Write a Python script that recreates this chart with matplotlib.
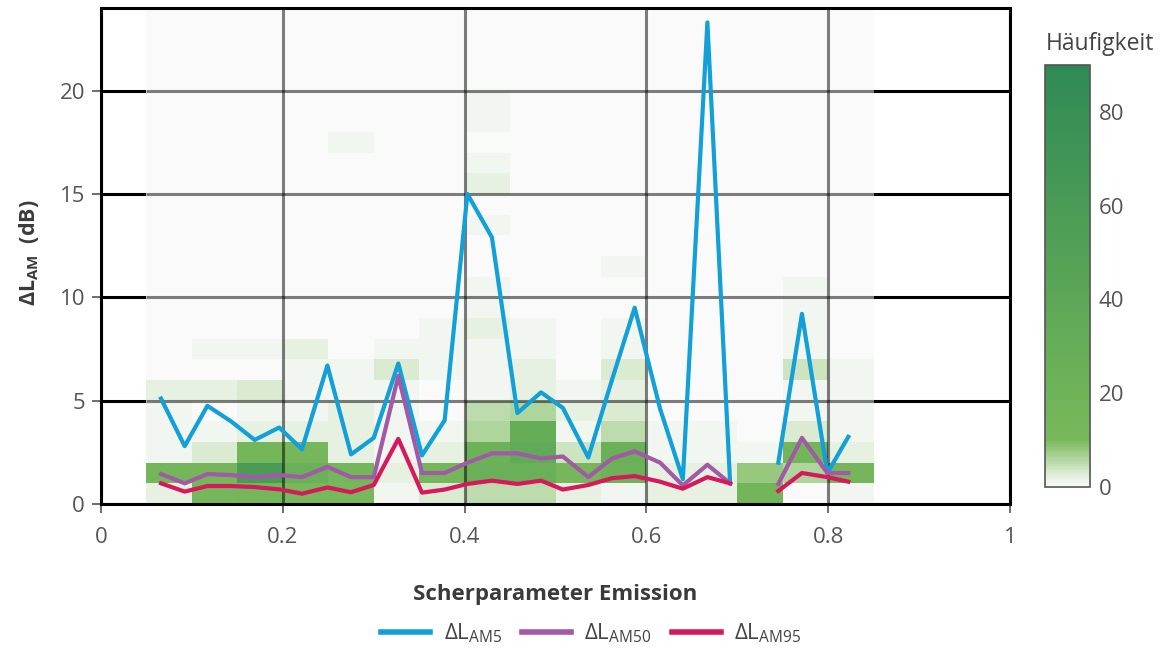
import numpy as np
import matplotlib
matplotlib.use("Agg")
import matplotlib.pyplot as plt
from matplotlib.colors import LinearSegmentedColormap, Normalize

plt.rcParams['font.family'] = ['Open Sans', 'DejaVu Sans']
plt.rcParams['mathtext.fontset'] = 'custom'
plt.rcParams['mathtext.rm'] = 'Open Sans'
plt.rcParams['mathtext.bf'] = 'Open Sans:bold'

# ---- data ----
# 2D histogram: x bins of shear parameter, y bins of 1 dB (counts per cell, bottom->top)
x_bin_edges = [0.05, 0.10, 0.15, 0.20, 0.25, 0.30, 0.35, 0.40, 0.45,
               0.50, 0.55, 0.60, 0.65, 0.70, 0.75, 0.80, 0.85]
y_bin_edges = list(range(0, 25))
counts_by_xbin = [
    [2, 14, 1, 1, 1, 2],
    [13, 15, 3, 1, 0, 2, 0, 1],
    [14, 60, 14, 2, 1, 3, 0, 1],
    [12, 25, 13, 2, 1, 1, 1, 2],
    [12, 14, 2, 2, 2, 1, 1, 0, 0, 0, 0, 0, 0, 0, 0, 0, 0, 1],
    [1, 2, 1, 1, 1, 1, 3, 1],
    [3, 14, 2, 1, 0, 0, 1, 1, 1],
    [5, 25, 22, 6, 5, 1, 1, 1, 2, 1, 1, 0, 0, 1, 0, 2, 1, 0, 1, 1],
    [5, 25, 35, 30, 6, 2, 2, 1, 1],
    [2, 13, 4, 1, 2, 1],
    [1, 22, 26, 5, 3, 2, 3, 1, 1, 0, 0, 1],
    [2, 2, 1, 1],
    [2, 2, 1, 1],
    [16, 8, 1],
    [0, 6, 16, 3, 1, 1, 4, 1, 1, 1, 1],
    [1, 15, 2, 1, 1, 1, 1],
]

# line series
x_shear = [0.066, 0.092, 0.117, 0.143, 0.169, 0.196, 0.221, 0.249, 0.275, 0.300,
           0.327, 0.353, 0.378, 0.403, 0.430, 0.458, 0.484, 0.508, 0.536, 0.562,
           0.587, 0.615, 0.640, 0.667, 0.692, 0.718, 0.745, 0.771, 0.799, 0.822]
dL_AM5 = [5.1, 2.8, 4.75, 4.0, 3.1, 3.7, 2.65, 6.7, 2.4, 3.2,
          6.8, 2.35, 4.05, 15.0, 12.9, 4.4, 5.4, 4.65, 2.25, 6.0,
          9.5, 4.6, 1.2, 23.3, 1.0, np.nan, 2.0, 9.2, 1.5, 3.25]
dL_AM50 = [1.45, 1.0, 1.45, 1.4, 1.3, 1.4, 1.3, 1.8, 1.3, 1.3,
           6.2, 1.5, 1.5, 2.0, 2.45, 2.45, 2.2, 2.3, 1.3, 2.2,
           2.55, 2.0, 0.9, 1.9, 1.0, np.nan, 0.97, 3.2, 1.5, 1.5]
dL_AM95 = [1.0, 0.6, 0.87, 0.87, 0.82, 0.71, 0.5, 0.8, 0.57, 0.92,
           3.15, 0.55, 0.7, 0.97, 1.13, 0.97, 1.13, 0.7, 0.92, 1.25,
           1.35, 1.08, 0.74, 1.3, 1.0, np.nan, 0.63, 1.5, 1.3, 1.08]

x_ticks = [0, 0.2, 0.4, 0.6, 0.8, 1]
x_tick_labels = ['0', '0.2', '0.4', '0.6', '0.8', '1']
y_ticks = [0, 5, 10, 15, 20]
cbar_ticks = [0, 20, 40, 60, 80]

# ---- build matrix ----
ny = len(y_bin_edges) - 1
H = np.zeros((ny, len(counts_by_xbin)))
for i, col in enumerate(counts_by_xbin):
    H[:len(col), i] = col

cmap = LinearSegmentedColormap.from_list(
    'hf', [(0.0, '#fafafa'), (0.03, '#dcecd4'), (0.11, '#78b95a'),
           (0.5, '#58a456'), (1.0, '#2e8a55')])
norm = Normalize(0, 90)

fig = plt.figure(figsize=(11.64, 6.51), dpi=100)
ax = fig.add_axes([0.0868, 0.2258, 0.781, 0.762])

ax.set_xlim(0, 1)
ax.set_ylim(0, 24)
ax.set_axisbelow(True)
ax.grid(True, color='black', lw=2.2, zorder=0)

mesh = ax.pcolormesh(x_bin_edges, y_bin_edges, H, cmap=cmap, norm=norm,
                     shading='flat', zorder=1, rasterized=True)
# grid seen through the semi-transparent histogram
ax.hlines([5, 10, 15, 20], x_bin_edges[0], x_bin_edges[-1], colors='black',
          alpha=0.5, lw=2.2, zorder=2)
ax.vlines([0.2, 0.4, 0.6, 0.8], 0, 24, colors='black', alpha=0.5, lw=2.2, zorder=2)

l1, = ax.plot(x_shear, dL_AM5, color='#139fd7', lw=3.0, zorder=3)
l2, = ax.plot(x_shear, dL_AM50, color='#a25aa6', lw=3.0, zorder=4)
l3, = ax.plot(x_shear, dL_AM95, color='#d6195c', lw=3.0, zorder=5)

for s in ax.spines.values():
    s.set_color('black')
    s.set_linewidth(2.2)
    s.set_zorder(6)

ax.set_xticks(x_ticks)
ax.set_xticklabels(x_tick_labels)
ax.set_yticks(y_ticks)
ax.tick_params(axis='both', colors='#555555', labelsize=16, width=1.2,
               length=6.5, direction='out')
ax.tick_params(axis='x', pad=10)
ax.tick_params(axis='y', pad=5)
for lab in ax.get_xticklabels() + ax.get_yticklabels():
    lab.set_color('#555555')

ax.set_xlabel('Scherparameter Emission', fontsize=16, fontweight='bold',
              color='#3a3a3a', labelpad=26)
fig.text(0.025, 1 - 253 / 651, r'ΔL$_{\mathbf{AM}}$  (dB)', rotation=90, fontsize=15.5,
         fontweight='bold', color='#3a3a3a', ha='center', va='center')

# colorbar
cax = fig.add_axes([0.8978, 0.252, 0.0387, 0.648])
cb = fig.colorbar(mesh, cax=cax, ticks=cbar_ticks)
cb.outline.set_edgecolor('#555555')
cb.outline.set_linewidth(1.2)
cax.tick_params(length=0, labelsize=16, colors='#555555', pad=6)
fig.text(1046 / 1164, 1 - 44 / 651, 'Häufigkeit', fontsize=16.5, color='#444444',
         ha='left', va='center')

leg = fig.legend([l1, l2, l3],
                 [r'ΔL$_{\mathrm{AM5}}$', r'ΔL$_{\mathrm{AM50}}$', r'ΔL$_{\mathrm{AM95}}$'],
                 loc='center', bbox_to_anchor=(0.508, 0.027), ncol=3, frameon=False,
                 fontsize=16, handlelength=2.2, columnspacing=0.9, handletextpad=0.6)
for t in leg.get_texts():
    t.set_color('#444444')
for h in leg.get_lines():
    h.set_linewidth(4)

fig.savefig('out.png', dpi=100)
